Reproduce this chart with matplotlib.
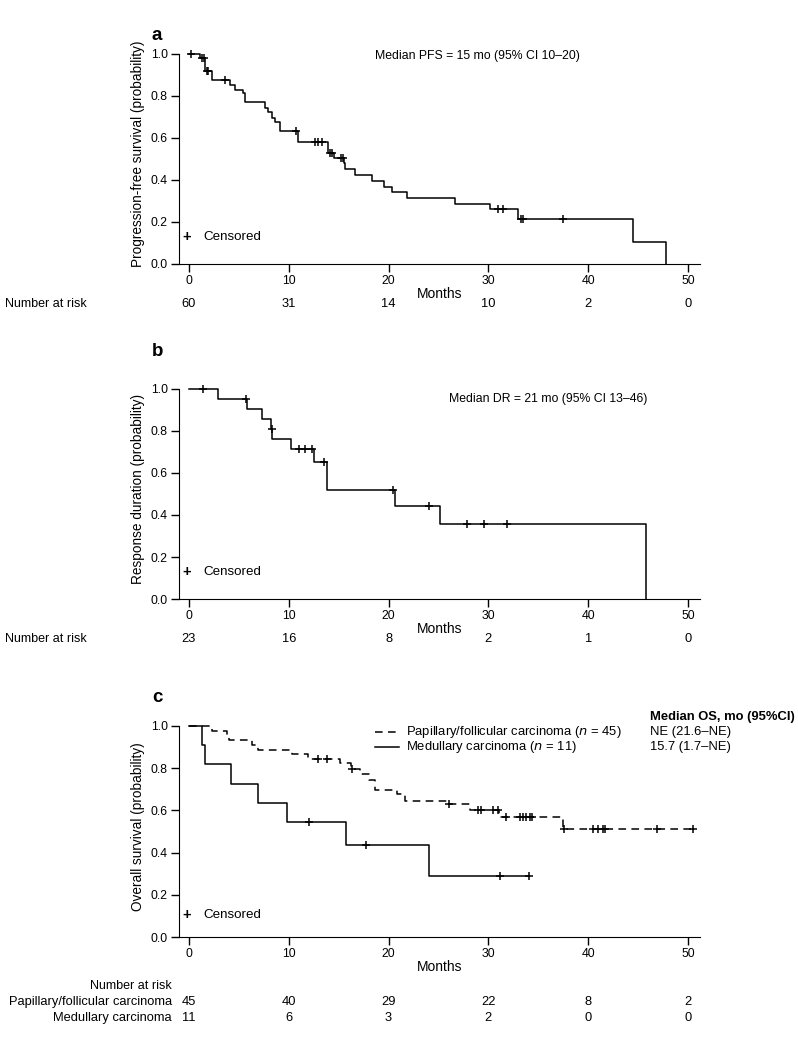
import numpy as np
import matplotlib
matplotlib.use("Agg")
import matplotlib.pyplot as plt
from matplotlib.transforms import blended_transform_factory

plt.rcParams['font.family'] = ['Liberation Sans', 'DejaVu Sans']
NARROW = ['Liberation Sans Narrow', 'Liberation Sans', 'DejaVu Sans']

# ---- data ----
ticks = [0, 10, 20, 30, 40, 50]

# panel a: progression-free survival
pfs_times = [0, 1.1, 1.6, 2.3, 4.1, 4.6, 5.45, 5.6, 7.6, 7.95, 8.3, 8.6, 9.1, 10.95,
             13.95, 14.5, 15.5, 15.6, 16.6, 18.3, 19.5, 20.3, 21.8, 26.65, 30.2, 33.0,
             44.5, 47.8]
pfs_surv = [1.0, 0.98, 0.917, 0.876, 0.852, 0.829, 0.813, 0.77, 0.741, 0.725, 0.694, 0.675,
            0.633, 0.583, 0.527, 0.503, 0.479, 0.451, 0.424, 0.397, 0.368, 0.341, 0.313,
            0.286, 0.26, 0.213, 0.107, 0.0]
pfs_censor = [0.2, 1.3, 1.5, 1.8, 1.9, 3.6, 10.7, 12.6, 12.95, 13.3, 14.1, 14.3, 15.2,
              15.4, 31.0, 31.5, 33.3, 33.5, 37.5]
pfs_end = 47.8
pfs_risk = [60, 31, 14, 10, 2, 0]

# panel b: response duration
dr_times = [0, 2.9, 5.8, 7.3, 8.25, 8.35, 10.2, 12.55, 13.8, 20.6, 25.1, 45.8]
dr_surv = [1.0, 0.951, 0.905, 0.857, 0.81, 0.762, 0.714, 0.651, 0.519, 0.444, 0.356, 0.0]
dr_censor = [1.4, 5.7, 8.3, 11.05, 11.6, 12.3, 13.56, 20.4, 24.0, 27.9, 29.6, 31.9]
dr_end = 45.8
dr_risk = [23, 16, 8, 2, 1, 0]

# panel c: overall survival
pap_times = [0, 2.3, 3.8, 4.0, 6.3, 6.9, 10.3, 11.95, 15.1, 16.2, 17.1, 18.0, 18.6,
             20.8, 21.6, 26.0, 28.2, 31.1, 37.5]
pap_surv = [1.0, 0.978, 0.956, 0.933, 0.911, 0.886, 0.867, 0.844, 0.823, 0.795, 0.772,
            0.744, 0.697, 0.676, 0.646, 0.628, 0.602, 0.570, 0.510]
pap_censor = [12.95, 13.8, 16.3, 26.1, 29.0, 29.3, 30.5, 31.0, 31.8, 33.2, 33.5, 33.8,
              34.2, 34.4, 37.6, 40.5, 41.0, 41.5, 41.7, 46.9, 50.5]
pap_end = 50.5
pap_risk = [45, 40, 29, 22, 8, 2]

med_times = [0, 1.3, 1.6, 4.2, 6.9, 9.8, 15.7, 24.0]
med_surv = [1.0, 0.909, 0.818, 0.727, 0.636, 0.545, 0.436, 0.291]
med_censor = [12.0, 17.7, 31.2, 34.1]
med_end = 34.1
med_risk = [11, 6, 3, 2, 0, 0]

W, H = 798, 1041
fig = plt.figure(figsize=(W / 100, H / 100), dpi=100)


def px_axes(left, right, y0, y1):
    # y0 = pixel row of value 0, y1 = pixel row of value 1.0
    unit = y0 - y1
    top = y1 - 0.05 * unit
    return fig.add_axes([left / W, 1 - y0 / H, (right - left) / W, (y0 - top) / H])


def km(ax, times, surv, censor, end, ls='-'):
    t = list(times) + [end]
    s = list(surv) + [surv[-1]]
    ax.step(t, s, where='post', color='black', lw=1.1, ls=ls)
    cs = [surv[np.searchsorted(times, c, side='right') - 1] for c in censor]
    ax.plot(censor, cs, ls='none', marker='+', ms=6, mew=1.1, color='black')


def style(ax, ylabel):
    ax.set_xlim(-1, 51.2)
    ax.set_ylim(0, 1.05)
    for sp in ['top', 'right']:
        ax.spines[sp].set_visible(False)
    ax.spines['left'].set_bounds(0, 1.0)
    ax.set_xticks(ticks)
    ax.set_yticks(np.arange(0, 1.01, 0.2))
    ax.set_yticklabels([f"{v:.1f}" for v in np.arange(0, 1.01, 0.2)])
    ax.tick_params(direction='out', length=5.5, width=1, labelsize=8.8, pad=2.5)
    ax.set_ylabel(ylabel, fontsize=9.8, labelpad=4)
    ax.set_xlabel('Months', fontsize=10, labelpad=0)


def fig_text(ax, x, ypx, s, **kw):
    tr = blended_transform_factory(ax.transData, fig.transFigure)
    fig.text(x, 1 - ypx / H, s, transform=tr, va='center', **kw)


def censored_key(ypx):
    fig.text(187 / W, 1 - ypx / H, '+', fontsize=10.5, va='center', ha='center',
             fontweight='bold')
    fig.text(203 / W, 1 - ypx / H, 'Censored', fontsize=9.6, va='center')


# ---- panel a ----
axa = px_axes(179, 700, 264, 54)
km(axa, pfs_times, pfs_surv, pfs_censor, pfs_end)
style(axa, 'Progression-free survival (probability)')
fig.text(152 / W, 1 - 36 / H, 'a', fontsize=13.5, fontweight='bold', va='center')
fig.text(375 / W, 1 - 56 / H, 'Median PFS = 15 mo (95% CI 10\u201320)', fontsize=8.8,
         va='center')
censored_key(237)
fig.text(5 / W, 1 - 304 / H, 'Number at risk', fontsize=9, va='center', family=NARROW)
for t, n in zip(ticks, pfs_risk):
    fig_text(axa, t, 304, str(n), fontsize=9.3, ha='center', family=NARROW)

# ---- panel b ----
axb = px_axes(179, 700, 599, 389)
km(axb, dr_times, dr_surv, dr_censor, dr_end)
style(axb, 'Response duration (probability)')
fig.text(152 / W, 1 - 352 / H, 'b', fontsize=13.5, fontweight='bold', va='center')
fig.text(449 / W, 1 - 399 / H, 'Median DR = 21 mo (95% CI 13\u201346)', fontsize=8.8,
         va='center')
censored_key(572)
fig.text(5 / W, 1 - 639 / H, 'Number at risk', fontsize=9, va='center', family=NARROW)
for t, n in zip(ticks, dr_risk):
    fig_text(axb, t, 639, str(n), fontsize=9.3, ha='center', family=NARROW)

# ---- panel c ----
axc = px_axes(179, 700, 937, 726)
km(axc, pap_times, pap_surv, pap_censor, pap_end, ls=(0, (5, 3.5)))
km(axc, med_times, med_surv, med_censor, med_end)
style(axc, 'Overall survival (probability)')
fig.text(152 / W, 1 - 697 / H, 'c', fontsize=13.5, fontweight='bold', va='center')
censored_key(915)

# legend drawn by hand to match the reference layout
for ypx, ls in [(732, (0, (5, 3.5))), (747, '-')]:
    fig.add_artist(plt.Line2D([375 / W, 399 / W], [1 - ypx / H] * 2, color='black',
                              lw=1.1, ls=ls))
fig.text(406 / W, 1 - 732 / H, 'Papillary/follicular carcinoma ($\\it{n}$ = 45)',
         fontsize=9.4, va='center')
fig.text(406 / W, 1 - 747 / H, 'Medullary carcinoma ($\\it{n}$ = 11)', fontsize=9.4,
         va='center')
fig.text(650 / W, 1 - 717 / H, 'Median OS, mo (95%CI)', fontsize=9.4, va='center',
         fontweight='bold')
fig.text(650 / W, 1 - 732 / H, 'NE (21.6\u2013NE)', fontsize=9.4, va='center')
fig.text(650 / W, 1 - 747 / H, '15.7 (1.7\u2013NE)', fontsize=9.4, va='center')

fig.text(172 / W, 1 - 986 / H, 'Number at risk', fontsize=9, va='center', ha='right',
         family=NARROW)
fig.text(172 / W, 1 - 1002 / H, 'Papillary/follicular carcinoma', fontsize=9.3,
         va='center', ha='right', family=NARROW)
fig.text(172 / W, 1 - 1018 / H, 'Medullary carcinoma', fontsize=9.3, va='center',
         ha='right', family=NARROW)
for t, n1, n2 in zip(ticks, pap_risk, med_risk):
    fig_text(axc, t, 1002, str(n1), fontsize=9.3, ha='center', family=NARROW)
    fig_text(axc, t, 1018, str(n2), fontsize=9.3, ha='center', family=NARROW)

fig.savefig('out.png', dpi=100)
